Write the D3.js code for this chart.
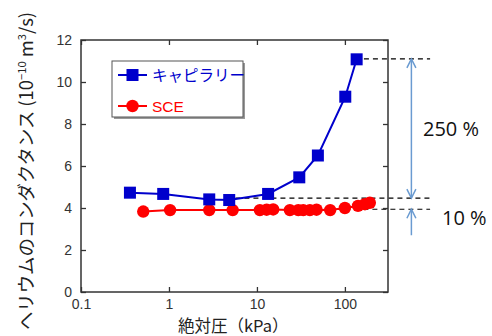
<!DOCTYPE html>
<html>
<head>
<meta charset="utf-8">
<script src="https://cdn.jsdelivr.net/npm/d3@7"></script>
<style>
  body { margin: 0; background: #fff; }
  svg text { font-family: "Liberation Sans", Arial, sans-serif; }
</style>
</head>
<body>
<svg id="chart" width="492" height="336"></svg>
<script>
// capillary (blue squares)
var capPressure = [0.36, 0.86, 2.87, 4.84, 13.4, 30.3, 49.3, 101, 136];
var capConductance = [4.73, 4.67, 4.41, 4.38, 4.67, 5.46, 6.5, 9.3, 11.08];

// SCE (red circles)
var scePressure = [0.51, 1.03, 2.87, 5.3, 10.8, 12.9, 15.3, 23.7, 29.5, 33.6, 40, 47.6, 68, 100, 141, 169, 192];
var sceConductance = [3.83, 3.9, 3.9, 3.9, 3.9, 3.92, 3.93, 3.9, 3.9, 3.9, 3.9, 3.92, 3.9, 4.0, 4.1, 4.18, 4.25];

var xTicks = [0.1, 1, 10, 100];
var yTicks = [0, 2, 4, 6, 8, 10, 12];

// reference levels for the annotation
var refLevels = [11.1, 4.47, 3.94];
var refStart = [130, 4.5, 80];
var refEnd = 930;
var arrowAt = 570;
var percentLabels = ['250 %', '10 %'];

var svg = d3.select('#chart');
var plotLeft = 81, plotRight = 388, plotTop = 40, plotBottom = 292;

var x = d3.scaleLog().domain([0.1, 309]).range([plotLeft, plotRight]);
var y = d3.scaleLinear().domain([0, 12]).range([plotBottom, plotTop]);

var axisColor = '#333';

// dashed reference lines (under the data)
svg.selectAll('.ref')
    .data(refLevels)
    .enter().append('line')
    .attr('x1', function (d, i) { return x(refStart[i]); })
    .attr('x2', x(refEnd))
    .attr('y1', function (d) { return y(d); })
    .attr('y2', function (d) { return y(d); })
    .attr('stroke', '#000')
    .attr('stroke-width', 1.2)
    .attr('stroke-dasharray', '5,4');

// axes
function styleAxis(g) {
    g.select('.domain').remove();
    g.selectAll('.tick line').attr('stroke', axisColor).attr('stroke-width', 1.3);
    g.selectAll('.tick text').attr('fill', '#333').style('font-size', '14px');
}

svg.append('g')
    .attr('transform', 'translate(0,' + plotBottom + ')')
    .call(d3.axisBottom(x).tickValues(xTicks).tickFormat(d3.format('')).tickSize(-5).tickPadding(5))
    .call(styleAxis)
    .selectAll('.tick text').attr('dy', '0.85em');

svg.append('g')
    .attr('transform', 'translate(0,' + plotTop + ')')
    .call(d3.axisTop(x).tickValues(xTicks).tickFormat('').tickSize(-5))
    .call(styleAxis);

svg.append('g')
    .attr('transform', 'translate(' + plotLeft + ',0)')
    .call(d3.axisLeft(y).tickValues(yTicks).tickSize(-5).tickPadding(9))
    .call(styleAxis);

svg.append('g')
    .attr('transform', 'translate(' + plotRight + ',0)')
    .call(d3.axisRight(y).tickValues(yTicks).tickFormat('').tickSize(-5))
    .call(styleAxis);

svg.append('rect')
    .attr('x', plotLeft).attr('y', plotTop)
    .attr('width', plotRight - plotLeft).attr('height', plotBottom - plotTop)
    .attr('fill', 'none')
    .attr('stroke', axisColor)
    .attr('stroke-width', 1.5);

// series
var capData = capPressure.map(function (p, i) { return [p, capConductance[i]]; });
var sceData = scePressure.map(function (p, i) { return [p, sceConductance[i]]; });

var line = d3.line()
    .x(function (d) { return x(d[0]); })
    .y(function (d) { return y(d[1]); });

var blue = '#0000cc';
var red = '#ff0000';
var rad = 6.2;
var sq = 12;

svg.append('path').datum(sceData)
    .attr('d', line).attr('fill', 'none')
    .attr('stroke', red).attr('stroke-width', 2);

svg.selectAll('.sce')
    .data(sceData)
    .enter().append('circle')
    .attr('cx', function (d) { return x(d[0]); })
    .attr('cy', function (d) { return y(d[1]); })
    .attr('r', rad)
    .attr('fill', red);

svg.append('path').datum(capData)
    .attr('d', line).attr('fill', 'none')
    .attr('stroke', blue).attr('stroke-width', 2);

svg.selectAll('.cap')
    .data(capData)
    .enter().append('rect')
    .attr('x', function (d) { return x(d[0]) - sq / 2; })
    .attr('y', function (d) { return y(d[1]) - sq / 2; })
    .attr('width', sq).attr('height', sq)
    .attr('fill', blue);

// legend
var lg = svg.append('g');
lg.append('rect').attr('x', 114).attr('y', 63).attr('width', 131).attr('height', 56).attr('fill', '#999');
lg.append('rect').attr('x', 112).attr('y', 61).attr('width', 131).attr('height', 56)
    .attr('fill', '#fff').attr('stroke', '#555').attr('stroke-width', 1);

var legendItems = [
    { name: 'キャピラリー', color: blue, shape: 'square', ty: 75 },
    { name: 'SCE', color: red, shape: 'circle', ty: 106 }
];
legendItems.forEach(function (d) {
    lg.append('line').attr('x1', 118).attr('x2', 147).attr('y1', d.ty).attr('y2', d.ty)
        .attr('stroke', d.color).attr('stroke-width', 2);
    if (d.shape === 'square') {
        lg.append('rect').attr('x', 132.5 - sq / 2).attr('y', d.ty - sq / 2)
            .attr('width', sq).attr('height', sq).attr('fill', d.color);
    } else {
        lg.append('circle').attr('cx', 132.5).attr('cy', d.ty).attr('r', rad).attr('fill', d.color);
    }
    lg.append('text').attr('x', 152).attr('y', d.ty + 5.5)
        .attr('fill', d.color)
        .style('font-size', '15.5px')
        .style('font-family', d.shape === 'square' ? '"Noto Sans CJK JP", sans-serif' : '"Liberation Sans", sans-serif')
        .text(d.name);
});

// annotation arrows
var arrowColor = '#6a9bd1';
var ax = x(arrowAt);
function chevron(tipY, dir) {
    return 'M' + (ax - 4.5) + ',' + (tipY + dir * 9) + 'L' + ax + ',' + tipY + 'L' + (ax + 4.5) + ',' + (tipY + dir * 9);
}
var ann = svg.append('g').attr('stroke', arrowColor).attr('stroke-width', 1.5).attr('fill', 'none');
ann.append('line').attr('x1', ax).attr('x2', ax).attr('y1', y(refLevels[0])).attr('y2', y(refLevels[1]));
ann.append('path').attr('d', chevron(y(refLevels[0]), 1));
ann.append('path').attr('d', chevron(y(refLevels[1]), -1));
ann.append('line').attr('x1', ax).attr('x2', ax).attr('y1', y(refLevels[2])).attr('y2', y(refLevels[2]) + 26);
ann.append('path').attr('d', chevron(y(refLevels[2]), 1));

svg.append('text').attr('x', 423).attr('y', 136)
    .style('font-family', '"Open Sans", sans-serif').style('font-size', '20px')
    .attr('fill', '#111').text(percentLabels[0]);
svg.append('text').attr('x', 442).attr('y', 225)
    .style('font-family', '"Open Sans", sans-serif').style('font-size', '20px')
    .attr('fill', '#111').text(percentLabels[1]);

// axis titles
var jp = '"Noto Sans CJK JP", sans-serif';
svg.append('text').attr('x', 178).attr('y', 332)
    .style('font-family', jp).style('font-size', '16.5px').attr('fill', '#222')
    .text('絶対圧（kPa）');

var yt = svg.append('text')
    .attr('transform', 'translate(33,330) rotate(-90)')
    .attr('textLength', 318).attr('lengthAdjust', 'spacingAndGlyphs')
    .style('font-family', jp).style('font-size', '18px').attr('fill', '#222');
yt.append('tspan').text('ヘリウムのコンダクタンス (10');
yt.append('tspan').attr('dy', -7).style('font-size', '11px').text('−10');
yt.append('tspan').attr('dy', 7).text(' m');
yt.append('tspan').attr('dy', -7).style('font-size', '11px').text('3');
yt.append('tspan').attr('dy', 7).text('/s)');
</script>
</body>
</html>
